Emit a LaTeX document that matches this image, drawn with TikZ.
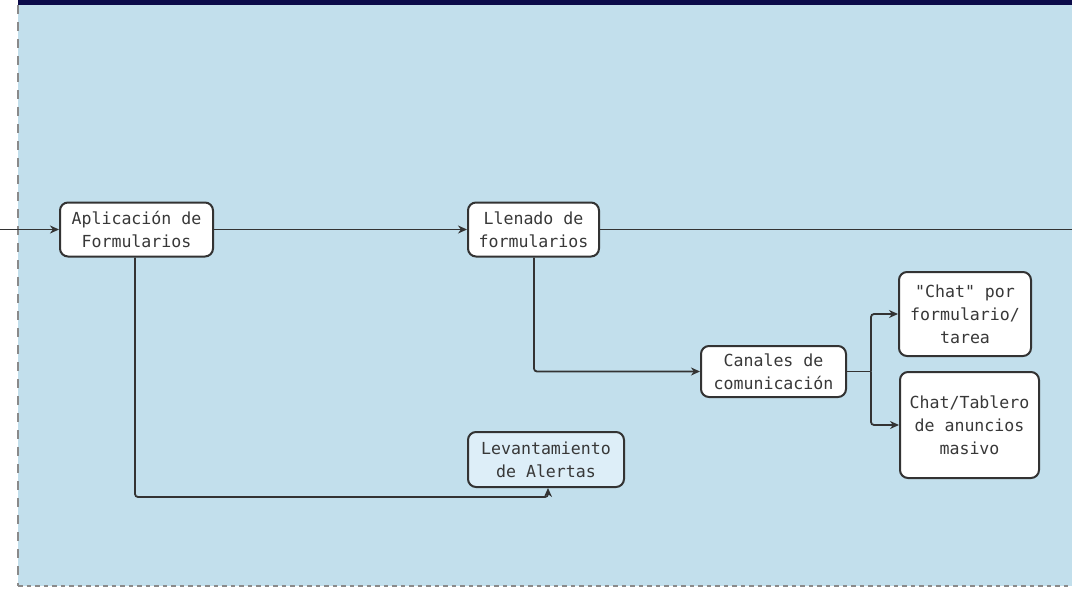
\documentclass[tikz,border=0pt]{standalone}
\usepackage{fontspec}
\setmonofont{DejaVu Sans Mono}
\usetikzlibrary{arrows.meta}
\definecolor{bgblue}{HTML}{C2DFEC}
\definecolor{navy}{HTML}{0B0B4A}
\definecolor{lightnode}{HTML}{DDEEF8}
\definecolor{linec}{HTML}{333333}
\definecolor{dashgray}{HTML}{8A8A8A}
\tikzset{
  box/.style={draw=linec, line width=2pt, rounded corners=8pt, fill=white,
    align=center, inner sep=0pt, font=\ttfamily\fontsize{16.6}{23}\selectfont, text=black!78},
  conn/.style={draw=linec, line width=1.8pt, -{Stealth[length=9pt,width=8pt]}},
  plain/.style={draw=linec, line width=1.8pt}
}
\begin{document}
\begin{tikzpicture}[x=1pt,y=-1pt]
\useasboundingbox (0,0) rectangle (1072,589);
\fill[white] (0,0) rectangle (1072,589);
\fill[bgblue] (18,0) rectangle (1072,586);
\fill[navy] (18,0) rectangle (1072,5);
\draw[dashgray, line width=2pt, dash pattern=on 9pt off 8pt] (18,5) -- (18,586);
\draw[dashgray, line width=2pt, dash pattern=on 4.5pt off 4pt] (18,586) -- (1072,586);

\node[box, minimum width=153pt, minimum height=54pt] (apl) at (136.5,229.5) {Aplicación de\\Formularios};
\node[box, minimum width=131pt, minimum height=54pt] (llen) at (533.5,229.5) {Llenado de\\formularios};
\node[box, minimum width=145pt, minimum height=51pt] (can) at (773.5,371.5) {Canales de\\comunicación};
\node[box, minimum width=132pt, minimum height=84pt] (chat) at (965,314) {"Chat" por\\formulario/\\tarea};
\node[box, minimum width=139pt, minimum height=106pt] (tab) at (969.5,425) {Chat/Tablero\\de anuncios\\masivo};
\node[box, fill=lightnode, minimum width=156pt, minimum height=55pt] (lev) at (546,459.5) {Levantamiento\\de Alertas};

\coordinate (in) at (0,229.5);
\coordinate (out) at (1072,229.5);
\coordinate (split) at (871,371.5);

\draw[conn] (in) -- (apl.west);
\draw[conn] (apl.east) -- (llen.west);
\draw[plain] (llen.east) -- (out);
\draw[conn, rounded corners=3pt] (apl.south -| 135,0) -- (135,497) -- (548,497) -- (lev.south -| 548,0);
\draw[conn, rounded corners=3pt] (llen.south -| 534,0) -- (534,371.5) -- (can.west);
\draw[plain] (can.east) -- (split);
\draw[conn, rounded corners=3pt] (split) -- (split |- chat.west) -- (chat.west);
\draw[conn, rounded corners=3pt] (split) -- (split |- tab.west) -- (tab.west);
\end{tikzpicture}
\end{document}
